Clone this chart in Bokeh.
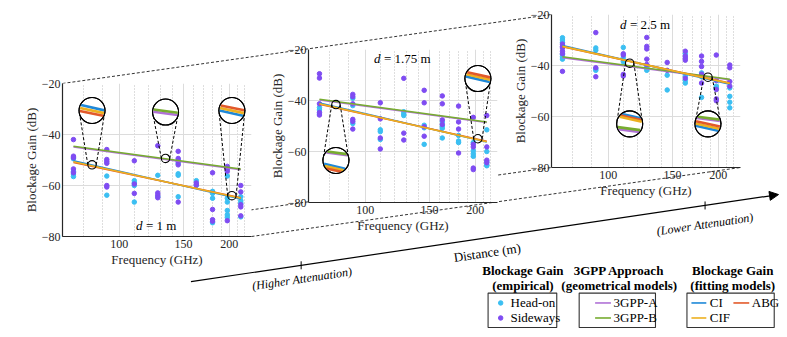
import math
from bokeh.plotting import figure
from bokeh.models import (Range1d, FixedTicker, Arrow, NormalHead,
                          BasicTickFormatter)
from bokeh.core.properties import value
from bokeh.embed import file_html
from bokeh.resources import INLINE

# ---------------------------------------------------------------- data
FREQ_GHZ = [75, 92.5, 110, 127.5, 145, 162.5, 180, 197.5, 215]
X_TICKS = [100, 150, 200]
X_MINOR = [80, 90, 110, 120, 130, 140, 160, 170, 180, 190, 210, 220]
Y_TICKS = [-80, -60, -40, -20]
MODEL_F = [75, 215]

# d = 1 m
d1_headon = [[-49.5, -54.5, -55.5, -56.5], [-56.3, -63.8], [-58.1, -59.0, -60.0, -66.5],
             [-56.0, -64.4], [-50.0, -51.3, -55.4, -56.0, -64.4], [-58.1, -60.0],
             [-62.3, -63.1, -65.0, -74.6], [-56.3, -65.0, -66.5, -69.8, -71.5, -72.5],
             [-64.4, -66.0, -66.9, -72.3]]
d1_sideways = [[-42.0, -48.5, -49.1, -53.5, -55.0], [-45.9, -49.8, -50.6, -51.3, -60.0, -60.6],
               [-50.3, -59.4, -63.1], [-44.4, -62.9, -63.8, -64.8],
               [-46.6, -49.4, -50.6, -51.9, -66.5], [-59.0, -59.8],
               [-55.0, -69.4, -73.4, -74.0], [-52.5, -53.4, -54.4, -73.8],
               [-60.0, -62.5, -67.5, -68.4, -71.9]]
d1_3gpp_a = [-44.9, -53.8]
d1_3gpp_b = [-44.6, -53.5]
d1_ci = [-50.3, -65.3]
d1_abg = [-51.0, -64.8]
d1_cif = [-50.7, -65.0]

# d = 1.75 m
d175_headon = [[-42.8, -43.7, -45.3], [-39.1, -42.0, -49.0], [-51.5, -52.2, -55.3],
               [-44.4, -45.3, -45.9], [-49.7, -50.7, -57.2], [-48.4, -50.0, -50.9, -54.7],
               [-53.7, -55.9, -56.5], [-56.5, -59.7, -60.9, -61.9],
               [-51.5, -60.0, -64.0, -65.3, -65.6]]
d175_sideways = [[-29.5, -31.2, -41.3, -44.7, -45.7], [-37.6, -38.5, -41.3, -47.4, -48.2, -51.2],
                 [-40.9, -47.2, -54.7, -59.0], [-31.3, -52.8, -55.5],
                 [-36.0, -40.9, -50.3, -54.0], [-38.2, -41.3, -47.6, -49.4],
                 [-42.2, -48.4, -51.2, -60.6], [-46.6, -57.2, -58.2, -66.5, -67.1],
                 [-45.9, -58.2, -63.4, -64.4]]
d175_3gpp_a = [-39.8, -48.6]
d175_3gpp_b = [-39.5, -48.4]
d175_ci = [-41.0, -56.3]
d175_abg = [-41.5, -56.0]
d175_cif = [-41.3, -56.2]

# d = 2.5 m
d25_headon = [[-29.1, -30.0, -30.9, -35.6, -36.6, -37.5], [-33.1, -34.0, -41.3, -41.9],
              [-32.9, -36.9, -38.5], [-40.4, -41.0, -41.9], [-43.8, -49.6],
              [-35.4, -44.1, -45.9, -46.9], [-42.9, -44.4, -52.5], [-48.1, -48.8, -49.1],
              [-48.8, -52.1, -54.4, -56.6]]
d25_sideways = [[-31.6, -32.5, -33.1, -34.4, -35.4, -42.3], [-27.1, -40.9, -44.4],
                [-35.4, -35.9, -43.5, -44.1], [-29.0, -32.5, -33.5, -37.5, -39.6],
                [-38.8, -41.9], [-34.4, -36.3, -37.1, -37.9, -45.0],
                [-36.3, -38.4, -40.4, -43.4, -46.9], [-35.9, -45.9, -49.4, -53.1, -53.8],
                [-39.8, -40.9, -46.3, -48.1]]
d25_3gpp_a = [-36.9, -45.6]
d25_3gpp_b = [-36.6, -45.4]
d25_ci = [-32.2, -47.3]
d25_abg = [-32.6, -46.9]
d25_cif = [-32.5, -47.0]

# ---------------------------------------------------------------- styles
SERIF = "Liberation Serif"
C_HEAD = "#3BBFF2"
C_SIDE = "#7F4CF2"
C_3A = "#B071D6"
C_3B = "#77AC30"
C_CI = "#1E88D8"
C_ABG = "#E2592A"
C_CIF = "#EDB120"
AX_COL = "#262626"

PAGE_W, PAGE_H = 771, 321
X_LO, X_HI = 70, 230
Y_LO, Y_HI = -80, -20
LOG_SPAN = math.log10(X_HI / X_LO)
OVERLAY = {"position": "absolute", "left": "8px", "top": "8px"}


def X(ix):
    return 54 + (ix - 33.3) * 0.9538


def Y(iy):
    return 6.5 + (iy - 8.3) * 0.9567


FRAME_W = round(198.4 * 0.9538)
FRAME_H = round(160 * 0.9567)
FRAMES = [(round(X(a)), round(Y(b))) for a, b in [(33.3, 80.0), (291.0, 44.0), (545.7, 8.3)]]

R_BIG = 13.0
R_SMALL = 4.2


def flat(cols):
    xs, ys = [], []
    for f, vals in zip(FREQ_GHZ, cols):
        xs += [f] * len(vals)
        ys += vals
    return xs, ys


def screen_angle(vals):
    dx = math.log10(MODEL_F[1] / MODEL_F[0]) * FRAME_W / LOG_SPAN
    dy = (vals[1] - vals[0]) * FRAME_H / (Y_HI - Y_LO)
    return math.atan2(dy, dx)


def px_to_data(fc, vc, ox, oy_up):
    return fc * 10 ** (ox * LOG_SPAN / FRAME_W), vc + oy_up * (Y_HI - Y_LO) / FRAME_H


def set_font(obj, attr):
    try:
        setattr(obj, attr, value(SERIF))
    except Exception:
        setattr(obj, attr, SERIF)


def make_panel(idx, headon, sideways, m3a, m3b, mci, mabg, mcif, dtext, d_f, d_v, d_width, mags):
    L, T = FRAMES[idx]
    p = figure(width=PAGE_W, height=PAGE_H, x_axis_type="log",
               x_range=Range1d(X_LO, X_HI), y_range=Range1d(Y_LO, Y_HI),
               output_backend="svg", toolbar_location=None, title=None,
               min_border_left=L, min_border_top=T,
               min_border_right=PAGE_W - L - FRAME_W,
               min_border_bottom=PAGE_H - T - FRAME_H,
               styles=OVERLAY)
    p.border_fill_color = None
    p.background_fill_color = "white"
    p.outline_line_color = None

    xt = FixedTicker(ticks=X_TICKS, minor_ticks=X_MINOR)
    yt = FixedTicker(ticks=Y_TICKS)
    p.xgrid.ticker = xt
    p.ygrid.ticker = yt
    axes = [p.xaxis[0], p.yaxis[0]]
    axes[0].ticker = xt
    axes[0].formatter = BasicTickFormatter(use_scientific=False)
    axes[1].ticker = yt
    axes[0].axis_label = "Frequency (GHz)"
    axes[1].axis_label = "Blockage Gain (dB)"
    axes[0].axis_label_standoff = 1
    axes[1].axis_label_standoff = 0
    axes[0].major_label_standoff = 3
    axes[1].major_label_standoff = 2
    for ax in axes:
        set_font(ax, "axis_label_text_font")
        set_font(ax, "major_label_text_font")
        ax.axis_label_text_font_size = "13px"
        ax.axis_label_text_font_style = "normal"
        ax.axis_label_text_color = AX_COL
        ax.major_label_text_font_size = "12px"
        ax.major_label_text_font_style = "normal"
        ax.major_label_text_color = AX_COL
        ax.major_tick_out = 0
        ax.major_tick_in = 0
        ax.minor_tick_out = 0
        ax.minor_tick_in = 0
        ax.major_tick_line_color = None
        ax.minor_tick_line_color = None
        ax.axis_line_color = AX_COL
        ax.axis_line_width = 1.2
    p.grid.grid_line_color = "#dcdcdc"
    p.xgrid.minor_grid_line_color = "#bdbdbd"
    p.xgrid.minor_grid_line_dash = "1 2"

    hx, hy = flat(headon)
    sx, sy = flat(sideways)
    p.scatter(hx, hy, size=4.5, color=C_HEAD)
    p.scatter(sx, sy, size=4.5, color=C_SIDE)

    p.line(MODEL_F, m3a, color=C_3A, line_width=1.6)
    p.line(MODEL_F, m3b, color=C_3B, line_width=1.6)
    p.line(MODEL_F, mci, color=C_CI, line_width=1.6)
    p.line(MODEL_F, mabg, color=C_ABG, line_width=1.6)
    p.line(MODEL_F, mcif, color=C_CIF, line_width=1.6)

    colors = {"A": C_3A, "B": C_3B, "CI": C_CI, "ABG": C_ABG, "CIF": C_CIF}
    ang = {"A": screen_angle(m3a), "B": screen_angle(m3b), "CI": screen_angle(mci),
           "ABG": screen_angle(mabg), "CIF": screen_angle(mcif)}

    for (fs, vs, vb, stripes) in mags:
        x0l, _ = px_to_data(fs, vs, -R_SMALL, 0)
        x1l, _ = px_to_data(fs, vb, -R_BIG, 0)
        x0r, _ = px_to_data(fs, vs, R_SMALL, 0)
        x1r, _ = px_to_data(fs, vb, R_BIG, 0)
        p.segment([x0l, x0r], [vs, vs], [x1l, x1r], [vb, vb], line_color="black",
                  line_width=1, line_dash="3 2")
        p.scatter([fs], [vs], marker="circle", size=2 * R_SMALL, fill_color=None,
                  line_color="black", line_width=1.1)
        p.scatter([fs], [vb], marker="circle", size=2 * R_BIG, fill_color="white",
                  line_color="black", line_width=1.1)
        for d, key in stripes:
            th = ang[key]
            ox = d * math.sin(th)
            oy = -d * math.cos(th)
            f, v = px_to_data(fs, vb, ox, oy)
            chord = 2 * math.sqrt(max(R_BIG ** 2 - d ** 2, 0)) - 1.5
            p.scatter([f], [v], marker="dash", size=chord, angle=th,
                      line_color=colors[key], line_width=2.6)
        p.scatter([fs], [vb], marker="circle", size=2 * R_BIG, fill_color=None,
                  line_color="black", line_width=1.1)

    p.text([d_f], [d_v], text=["d"], text_font=value(SERIF), text_font_size="13px",
           text_font_style="italic", text_align="left", text_baseline="middle",
           x_offset=-d_width / 2, text_color="black")
    p.text([d_f], [d_v], text=[dtext], text_font=value(SERIF), text_font_size="13px",
           text_align="left", text_baseline="middle", x_offset=-d_width / 2 + 10,
           text_color="black")
    return p


p1 = make_panel(0, d1_headon, d1_sideways, d1_3gpp_a, d1_3gpp_b, d1_ci, d1_abg, d1_cif,
                "= 1 m", 126, -75.6, 40,
                [(84.3, -51.9, -30.6, [(-2.9, "CI"), (0, "CIF"), (2.9, "ABG")]),
                 (133.9, -49.4, -31.2, [(1.4, "A"), (-0.9, "B")]),
                 (203.3, -64.0, -30.6, [(2.7, "CI"), (0, "CIF"), (-2.7, "ABG")])])
p2 = make_panel(1, d175_headon, d175_sideways, d175_3gpp_a, d175_3gpp_b, d175_ci, d175_abg,
                d175_cif, "= 1.75 m", 126, -23.5, 56,
                [(83.2, -41.6, -63.5, [(-6.6, "A"), (-7.7, "B"), (6.0, "CI"), (8.0, "CIF"),
                                       (10.0, "ABG")]),
                 (203.3, -55.0, -31.4, [(0.6, "CI"), (-1.6, "CIF"), (-3.8, "ABG")])])
p3 = make_panel(2, d25_headon, d25_sideways, d25_3gpp_a, d25_3gpp_b, d25_ci, d25_abg,
                d25_cif, "= 2.5 m", 126, -23.75, 50,
                [(114.5, -39.1, -62.9, [(-7.9, "CI"), (-6.3, "ABG"), (-4.8, "CIF"),
                                        (6.7, "A"), (4.8, "B")]),
                 (187.4, -44.6, -62.9, [(-4.4, "A"), (-5.8, "B"), (4.5, "CI"), (2.2, "CIF"),
                                        (0, "ABG")])])

# ---------------------------------------------------------------- background
bg = figure(width=PAGE_W, height=PAGE_H, x_range=Range1d(0, PAGE_W), y_range=Range1d(PAGE_H, 0),
            output_backend="svg", toolbar_location=None, title=None, min_border=0,
            x_axis_location=None, y_axis_location=None, styles=OVERLAY)
bg.grid.visible = False
bg.outline_line_color = None
bg.background_fill_color = "white"
bg.border_fill_color = "white"

(L1, T1), (L2, T2), (L3, T3) = FRAMES
bg.segment([L1, L1, L1 + FRAME_W], [T1, T1 + FRAME_H, T1 + FRAME_H],
           [L3, L3, L3 + FRAME_W], [T3, T3 + FRAME_H, T3 + FRAME_H],
           line_color="#333333", line_width=1, line_dash="3 2")

ax0, ay0, ax1, ay1 = X(168), Y(287), X(784), Y(196)
bg.add_layout(Arrow(end=NormalHead(size=9, fill_color="black", line_color="black"),
                    x_start=ax0, y_start=ay0, x_end=ax1, y_end=ay1,
                    line_color="black", line_width=1.2))
theta_arrow = math.atan2(ay0 - ay1, ax1 - ax0)
tick_x = [X(283.5), X(707)]
tick_y = [ay0 + (tx - ax0) * (ay1 - ay0) / (ax1 - ax0) for tx in tick_x]
bg.segment(tick_x, [t - 4 for t in tick_y], tick_x, [t + 4 for t in tick_y],
           line_color="black", line_width=1)
bg.text([X(478.6)], [Y(256.7)], text=["Distance (m)"], text_font=value(SERIF),
        text_font_size="13px", text_align="center", text_baseline="middle",
        angle=theta_arrow, text_color="black")
bg.text([X(284.5), X(707)], [Y(284), Y(227)],
        text=["(Higher Attenuation)", "(Lower Attenuation)"], text_font=value(SERIF),
        text_font_size="12px", text_font_style="italic", text_align="center",
        text_baseline="middle", angle=theta_arrow, text_color="black")

bg.text([X(516), X(617), X(736)], [Y(275)] * 3,
        text=["Blockage Gain", "3GPP Approach", "Blockage Gain"], text_font=value(SERIF),
        text_font_size="13px", text_font_style="bold", text_align="center",
        text_baseline="middle", text_color="black")
bg.text([X(516), X(617), X(736)], [Y(291.5)] * 3,
        text=["(empirical)", "(geometrical models)", "(fitting models)"],
        text_font=value(SERIF), text_font_size="13px", text_font_style="bold",
        text_align="center", text_baseline="middle", text_color="black")
bg.quad(left=[X(479.5), X(575), X(688)], right=[X(551.5), X(655), X(779.5)],
        top=[Y(299)] * 3, bottom=[Y(335)] * 3, fill_color=None,
        line_color="#333333", line_width=1.1)
row1, row2 = Y(309.3), Y(325)
bg.scatter([X(492.7), X(492.7)], [row1, row2], size=4.5, color=[C_HEAD, C_SIDE])
bg.segment([X(591.7), X(591.7), X(692.7), X(736.7), X(692.7)],
           [row1, row2, row1, row1, row2],
           [X(608.3), X(608.3), X(708.3), X(753.3), X(708.3)],
           [row1, row2, row1, row1, row2],
           line_color=[C_3A, C_3B, C_CI, C_ABG, C_CIF], line_width=1.6)
bg.text([X(503), X(503), X(611), X(611), X(712), X(756), X(712)],
        [row1, row2, row1, row2, row1, row1, row2],
        text=["Head-on", "Sideways", "3GPP-A", "3GPP-B", "CI", "ABG", "CIF"],
        text_font=value(SERIF), text_font_size="13px", text_align="left",
        text_baseline="middle", text_color="black")

open("out.html", "w").write(file_html([bg, p1, p2, p3], INLINE))
